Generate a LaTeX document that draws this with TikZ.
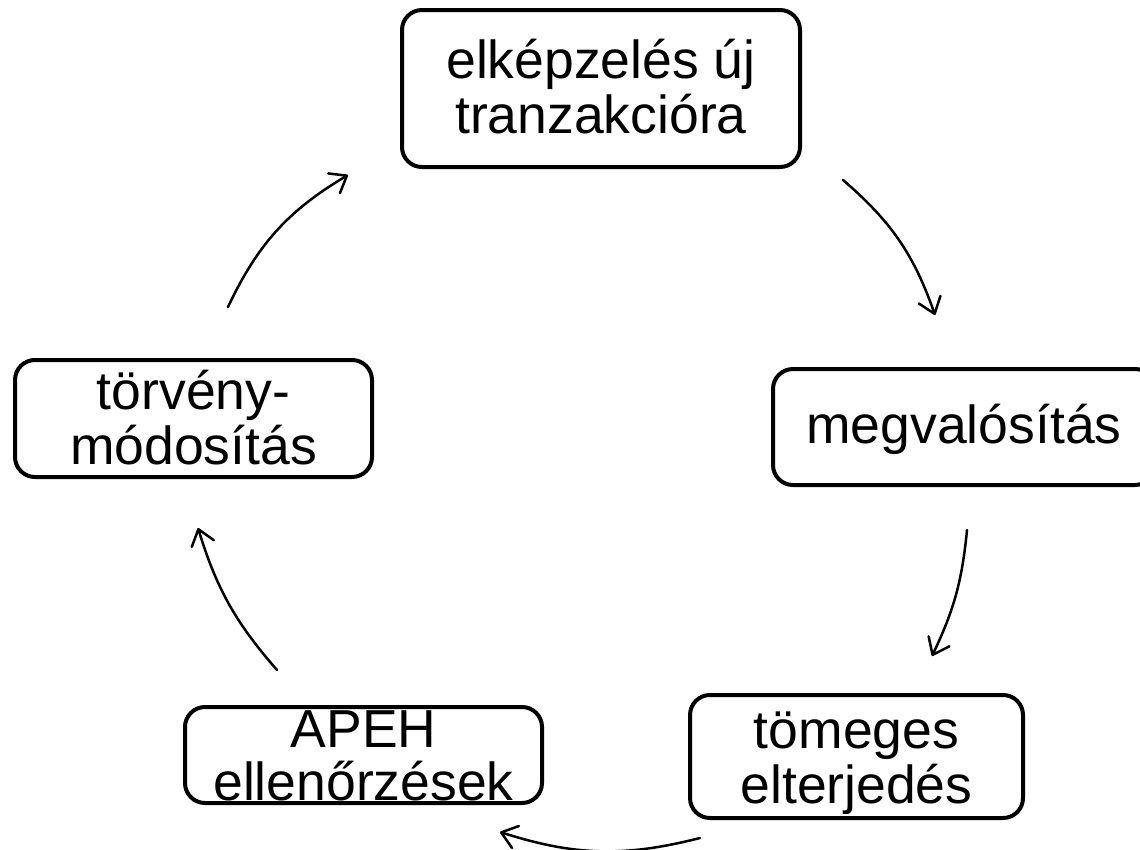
\documentclass[tikz,border=0pt]{standalone}
\usepackage{fontspec}
\setmainfont{Liberation Sans}
\usetikzlibrary{arrows.meta}
\begin{document}
\begin{tikzpicture}[x=1pt,y=-1pt,
  box/.style={draw, line width=4pt, rounded corners=20pt, inner sep=0pt},
  lbl/.style={align=center, font=\fontsize{53.5}{55}\selectfont, inner sep=0pt},
  arr/.style={line width=2.5pt, line cap=round, line join=round, -{Straight Barb[length=15pt,width=23pt,line cap=round,line join=round]}}]
\useasboundingbox (0,0) rectangle (1140,849);
\clip (0,0) rectangle (1140,849);
% boxes
\node[box, minimum width=398pt, minimum height=157pt] (b1) at (601,88.5) {};
\node[box, minimum width=382pt, minimum height=116pt] (b2) at (964,427) {};
\node[box, minimum width=333pt, minimum height=123pt] (b3) at (856.5,756.5) {};
\node[box, minimum width=357pt, minimum height=96pt] (b4) at (363.5,755) {};
\node[box, minimum width=357pt, minimum height=117pt] (b5) at (193.5,418.5) {};
% labels
\node[lbl] (t1) at (601,87) {elképzelés új\\tranzakcióra};
\node[lbl] (t2) at (964,429) {megvalósítás};
\node[lbl] (t3) at (856.5,763) {tömeges\\elterjedés};
\node[lbl, font=\fontsize{53.5}{53}\selectfont] (t4) at (363.5,756) {APEH\\ellenőrzések};
\node[lbl] (t5) at (193.5,418) {törvény-\\módosítás};
% connector ends
\coordinate (a1s) at (843,180);  \coordinate (a1e) at (935,315);
\coordinate (a2s) at (967,530);  \coordinate (a2e) at (932,656);
\coordinate (a3s) at (700,838);  \coordinate (a3e) at (500,832);
\coordinate (a4s) at (277,670);  \coordinate (a4e) at (198,528);
\coordinate (a5s) at (228,307);  \coordinate (a5e) at (348,175);
\draw[arr] (a1s) to[bend left=15] (a1e);
\draw[arr] (a2s) to[bend left=10] (a2e);
\draw[arr] (a3s) to[bend left=16] (a3e);
\draw[arr] (a4s) to[bend left=12] (a4e);
\draw[arr] (a5s) to[bend left=17] (a5e);
\end{tikzpicture}
\end{document}
